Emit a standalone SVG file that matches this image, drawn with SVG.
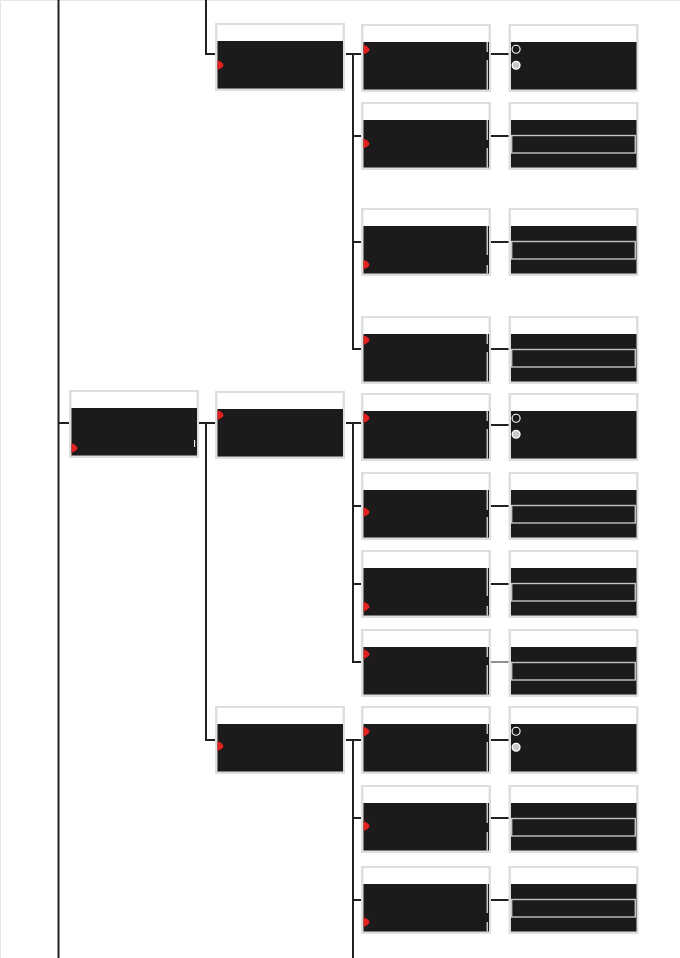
<svg xmlns="http://www.w3.org/2000/svg" xmlns:xlink="http://www.w3.org/1999/xlink" width="680" height="958" viewBox="0 0 680 958">
<style>
.frame{fill:#dedede}
.hdr{fill:#ffffff}
.scr{fill:#1d1a1b}
.mk{fill:#e3211f}
.sb{stroke:#ffffff;stroke-width:1.1;fill:none}
.sel{fill:none;stroke:#c4c4c4;stroke-width:1.4}
.rad0{fill:none;stroke:#ffffff;stroke-width:1.1}
.rad1{fill:#c9c9c9;stroke:#ffffff;stroke-width:1.3}
.con path{fill:none;stroke:#231f20;stroke-width:2}
</style>
<defs>
<g id="box">
<rect class="frame" x="0" y="0" width="130" height="68"/>
<rect class="hdr" x="2.5" y="2" width="125" height="16"/>
<rect class="scr" x="2.5" y="18" width="125.5" height="47.5"/>
</g>
<path id="mark" class="mk" d="M0,-4.6 C2.5,-4.6 6,-1.6 6,0 C6,1.6 2.5,4.6 0,4.6 Z"/>
<rect id="selrow" class="sel" x="3.2" y="33.5" width="123.6" height="17.5"/>
<g id="radios">
<circle class="rad0" cx="7.6" cy="25.3" r="4"/>
<circle class="rad1" cx="7.6" cy="41.3" r="3.9"/>
</g>
</defs>
<rect x="0" y="0" width="680" height="958" fill="#ffffff"/>
<path d="M0.5,958 V0.5 H680" fill="none" stroke="#e6e6e6" stroke-width="1"/>

<g id="connectors" class="con">
<path d="M58.5,0 V958"/>
<path d="M58.5,423 H69"/>
<path d="M206,0 V54 H215"/>
<path d="M199,423 H215"/>
<path d="M206,423 V740 H215"/>
<path d="M346,54 H362"/>
<path d="M353,54 V349 H362"/>
<path d="M353,136 H362"/>
<path d="M353,242 H362"/>
<path d="M346,423 H362"/>
<path d="M353,423 V662 H362"/>
<path d="M353,506 H362"/>
<path d="M353,584 H362"/>
<path d="M346,740 H362"/>
<path d="M353,740 V958"/>
<path d="M353,818 H362"/>
<path d="M353,900 H362"/>
<path d="M491,54 H509"/>
<path d="M491,136 H509"/>
<path d="M491,242 H509"/>
<path d="M491,349 H509"/>
<path d="M491,425 H509"/>
<path d="M491,506 H509"/>
<path d="M491,584 H509"/>
<path d="M491,662 H509" style="stroke-width:1.2;stroke:#444"/>
<path d="M491,740 H509"/>
<path d="M491,818 H509"/>
<path d="M491,900 H509"/>
</g>

<g id="root">
<use xlink:href="#box" x="69" y="390"/>
<use xlink:href="#mark" x="71.5" y="448"/>
<path class="sb" d="M194.6,440 V447"/>
</g>

<g id="l2-a">
<use xlink:href="#box" x="215" y="23"/>
<use xlink:href="#mark" x="217.5" y="65"/>
</g>
<g id="l2-b">
<use xlink:href="#box" x="215" y="391"/>
<use xlink:href="#mark" x="217.5" y="415"/>
</g>
<g id="l2-c">
<use xlink:href="#box" x="215" y="706"/>
<use xlink:href="#mark" x="217.5" y="746"/>
</g>

<g id="l3-a">
<use xlink:href="#box" x="361" y="24"/>
<use xlink:href="#mark" x="363.5" y="49.5"/>
<path class="sb" d="M487.2,42 V52 M487.2,60 V89.5"/>
</g>
<g id="l3-b">
<use xlink:href="#box" x="361" y="102"/>
<use xlink:href="#mark" x="363.5" y="143.5"/>
<path class="sb" d="M487.2,120 V140 M487.2,148 V167.5"/>
</g>
<g id="l3-c">
<use xlink:href="#box" x="361" y="208"/>
<use xlink:href="#mark" x="363.5" y="264.5"/>
<path class="sb" d="M487.2,226 V255 M487.2,265 V273.5"/>
</g>
<g id="l3-d">
<use xlink:href="#box" x="361" y="316"/>
<use xlink:href="#mark" x="363.5" y="340"/>
<path class="sb" d="M487.2,334 V344 M487.2,352 V381.5"/>
</g>
<g id="l3-e">
<use xlink:href="#box" x="361" y="393"/>
<use xlink:href="#mark" x="363.5" y="418"/>
<path class="sb" d="M487.2,411 V421 M487.2,429 V458.5"/>
</g>
<g id="l3-f">
<use xlink:href="#box" x="361" y="472"/>
<use xlink:href="#mark" x="363.5" y="512"/>
<path class="sb" d="M487.2,490 V510 M487.2,517 V537.5"/>
</g>
<g id="l3-g">
<use xlink:href="#box" x="361" y="550"/>
<use xlink:href="#mark" x="363.5" y="606.5"/>
<path class="sb" d="M487.2,568 V596 M487.2,606 V615.5"/>
</g>
<g id="l3-h">
<use xlink:href="#box" x="361" y="629"/>
<use xlink:href="#mark" x="363.5" y="654"/>
<path class="sb" d="M487.2,647 V657 M487.2,665 V694.5"/>
</g>
<g id="l3-i">
<use xlink:href="#box" x="361" y="706"/>
<use xlink:href="#mark" x="363.5" y="731.5"/>
<path class="sb" d="M487.2,724 V734 M487.2,742 V771.5"/>
</g>
<g id="l3-j">
<use xlink:href="#box" x="361" y="785"/>
<use xlink:href="#mark" x="363.5" y="826"/>
<path class="sb" d="M487.2,803 V823 M487.2,832 V850.5"/>
</g>
<g id="l3-k">
<use xlink:href="#box" x="361" y="866"/>
<use xlink:href="#mark" x="363.5" y="922"/>
<path class="sb" d="M487.2,884 V913 M487.2,922 V931.5"/>
</g>

<g id="l4-a"><use xlink:href="#box" x="508.5" y="24"/><use xlink:href="#radios" x="508.5" y="24"/></g>
<g id="l4-b"><use xlink:href="#box" x="508.5" y="102"/><use xlink:href="#selrow" x="508.5" y="102"/></g>
<g id="l4-c"><use xlink:href="#box" x="508.5" y="208"/><use xlink:href="#selrow" x="508.5" y="208"/></g>
<g id="l4-d"><use xlink:href="#box" x="508.5" y="316"/><use xlink:href="#selrow" x="508.5" y="316"/></g>
<g id="l4-e"><use xlink:href="#box" x="508.5" y="393"/><use xlink:href="#radios" x="508.5" y="393"/></g>
<g id="l4-f"><use xlink:href="#box" x="508.5" y="472"/><use xlink:href="#selrow" x="508.5" y="472"/></g>
<g id="l4-g"><use xlink:href="#box" x="508.5" y="550"/><use xlink:href="#selrow" x="508.5" y="550"/></g>
<g id="l4-h"><use xlink:href="#box" x="508.5" y="629"/><use xlink:href="#selrow" x="508.5" y="629"/></g>
<g id="l4-i"><use xlink:href="#box" x="508.5" y="706"/><use xlink:href="#radios" x="508.5" y="706"/></g>
<g id="l4-j"><use xlink:href="#box" x="508.5" y="785"/><use xlink:href="#selrow" x="508.5" y="785"/></g>
<g id="l4-k"><use xlink:href="#box" x="508.5" y="866"/><use xlink:href="#selrow" x="508.5" y="866"/></g>
</svg>
